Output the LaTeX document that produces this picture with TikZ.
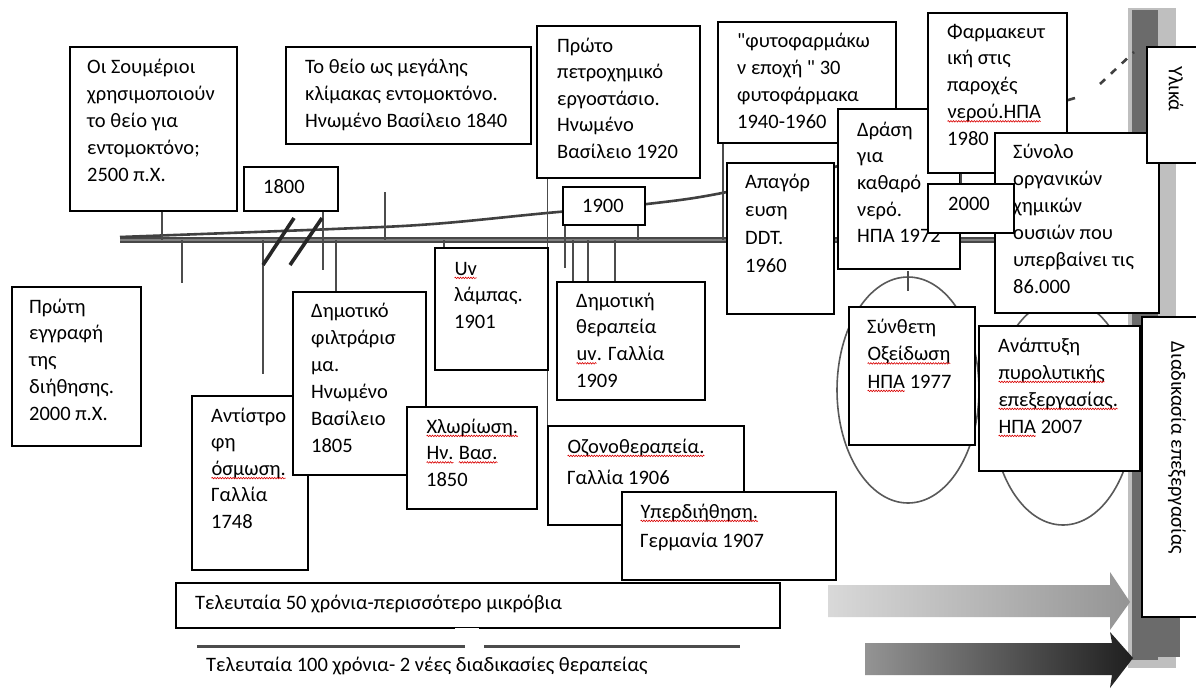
\documentclass[tikz,border=0pt]{standalone}
\usepackage{fontspec}
\setmainfont{Carlito}[Ligatures=TeXOff]
\usetikzlibrary{fit,shapes.geometric,decorations.pathmorphing}

% red wavy underline (spell-check mark) under a word
\newcommand\spellmark[1]{\tikz[baseline=(sp.base)]{\node[inner sep=0pt,outer sep=0pt] (sp) {#1};%
  \draw[red!85!black,line width=0.6pt,decorate,decoration={snake,amplitude=0.75pt,segment length=2.6pt}]
    ([yshift=-2.9pt]sp.base west) -- ([yshift=-2.9pt]sp.base east);}}
% fixed height of the first text line in every box
\newcommand\fl{\rule{0pt}{20pt}}

\tikzset{
  box/.style={draw=black,line width=1.4pt,fill=white,inner sep=0pt},
  txt/.style={anchor=north west,inner sep=0pt,align=left,font=\fontsize{20.5}{27}\selectfont},
  rot/.style={inner sep=0pt,rotate=-90,font=\fontsize{20.5}{27}\selectfont},
  tick/.style={line width=1.6pt,black!70},
  bar/.style={line width=6pt,black!72},
  slash/.style={line width=3.6pt,black!85},
  ring/.style={draw=black!65,line width=1.6pt,ellipse,inner sep=0pt,minimum width=142pt,minimum height=226pt}
}

\begin{document}
\begin{tikzpicture}[x=1pt,y=-1pt]
\useasboundingbox (0,0) rectangle (1196,691);
\fill[white] (0,0) rectangle (1196,691);

% grey band on the right edge
\fill[black!25] (1128,8) rectangle (1176,668);
\fill[black!58] (1132,10) rectangle (1158,660);
\fill[black!58] (1132,617) rectangle (1180,657);

% ellipses behind the recent boxes
\node[ring] (ell1) at (908,390) {};
\node[ring] (ell2) at (1063,412) {};
\draw[tick] ([yshift=5pt]ell1.north) -- ([yshift=-15pt]ell1.north);

% shaded arrows
\shade[left color=black!15,right color=black!42]
  (828,585) -- (1110,585) -- (1110,572) -- (1130,602) -- (1110,630) -- (1110,617) -- (828,617) -- cycle;
\shade[left color=black!42,right color=black!88]
  (865,643) -- (1112,643) -- (1110,632) -- (1133,658) -- (1110,688) -- (1112,675) -- (865,675) -- cycle;

% line above the last caption
\draw[line width=3pt,black!70] (197,646) -- (465,646);
\draw[line width=3pt,black!70] (484,646) -- (740,646);

% time axis and rising curve
\coordinate (axL) at (120,240);
\coordinate (axR) at (995,240);
\draw[bar] (axL) -- (axR);
\draw[line width=1.2pt,black!50] (axL) -- (axR);
\draw[line width=2.6pt,black!75] plot[smooth,tension=0.6] coordinates
  {(120,237) (333,229) (433,224) (547,213) (647,204) (727,192) (850,163) (960,132) (1075,98)};
\coordinate (d1) at (1100,84);
\coordinate (d2) at (1134,52);
\draw[line width=2.6pt,black!75,dash pattern=on 7pt off 8pt] (d1) -- (d2);

% boxes with their texts
\node[box,fit={(70,47) (237,211)}] (sum) {};
\node[txt] (tsum) at (87,52.8) {\fl Οι Σουμέριοι\\χρησιμοποιούν\\το θείο για\\εντομοκτόνο;\\2500 π.Χ.};

\node[box,fit={(286,47) (531,144)}] (sulf) {};
\node[txt] (tsulf) at (305,52.8) {\fl Το θείο ως μεγάλης\\κλίμακας εντομοκτόνο.\\Ηνωμένο Βασίλειο 1840};

% tick lines between the boxes and the axis
\coordinate (c162) at (162,240);
\coordinate (c182) at (182,240);
\coordinate (e182) at (182,283);
\coordinate (c263) at (263,240);
\coordinate (e263) at (263,374);
\coordinate (e323) at (323,270);
\coordinate (c336) at (336,240);
\coordinate (e385) at (385,192);
\coordinate (c385) at (385,240);
\coordinate (c444) at (444,240);
\coordinate (e565) at (565,268);
\coordinate (c573) at (573,240);
\coordinate (c588) at (588,240);
\coordinate (c615) at (615,240);
\coordinate (c638) at (638,240);
\coordinate (c723) at (723,240);
\coordinate (c961) at (961,180);

\node[box,fit={(244,167) (338,211)}] (b1800) {};
\node[txt] (t1800) at (263,172.8) {\fl 1800};
\node[box,fit={(537,26) (700,178)}] (petro) {};
\node[txt,font=\fontsize{20.5}{26.5}\selectfont] (tpetro) at (557,31.8) {\fl Πρώτο\\πετροχημικό\\εργοστάσιο.\\Ηνωμένο\\Βασίλειο 1920};
\node[box,fit={(563,187) (645,225)}] (b1900) {};
\node[txt] (t1900) at (582,191.8) {\fl 1900};
\node[box,fit={(718,22) (896,143)}] (fyto) {};
\node[txt] (tfyto) at (737,26.8) {\fl "φυτοφαρμάκω\\ν εποχή " 30\\φυτοφάρμακα\\1940-1960};

\draw[tick] (sum.south -| c162) -- (c162);
\draw[tick] (c182) -- (e182);
\draw[tick] (c263) -- (e263);
\draw[tick] (b1800.south -| e323) -- (e323);
\draw[tick] (e385) -- (c385);
\draw[tick] (fyto.south -| c723) -- (c723);
\draw[tick] (b1900.south -| c638) -- (c638);
\draw[tick] (b1900.south -| e565) -- (e565);

% break marks on the axis
\coordinate (s1a) at (263,265);
\coordinate (s1b) at (294,218);
\coordinate (s2a) at (290,265);
\coordinate (s2b) at (322,218);
\draw[slash] (s1a) -- (s1b);
\draw[slash] (s2a) -- (s2b);

\node[box,fit={(727,163) (834,314)}] (apag) {};
\node[txt,font=\fontsize{20.5}{28}\selectfont] (tapag) at (745,167.8) {\fl Απαγόρ\\ευση\\DDT.\\1960};
\node[box,fit={(838,109) (960,269)}] (drasi) {};
\node[txt,font=\fontsize{20.5}{26.7}\selectfont] (tdrasi) at (857,115.8) {\fl Δράση\\για\\καθαρό\\νερό.\\ΗΠΑ 1972};
\node[box,fit={(928,13) (1067,173)}] (farm) {};
\node[txt,font=\fontsize{20.5}{26.8}\selectfont] (tfarm) at (947,17.8) {\fl Φαρμακευτ\\ική στις\\παροχές\\\spellmark{νερού.ΗΠΑ}\\1980};
\node[box,fit={(995,133) (1159,313)}] (synolo) {};
\node[txt] (tsyn) at (1013,137.8) {\fl Σύνολο\\οργανικών\\χημικών\\ουσιών που\\υπερβαίνει τις\\86.000};
\draw[tick] (farm.south -| c961) -- (c961);
\node[box,fit={(928,184) (1014,233)}] (b2000) {};
\node[txt] (t2000) at (948,189.8) {\fl 2000};
\draw[tick] (c961) -- (b2000.north -| c961);

\node[box,fit={(1147,47) (1199,163)}] (ylika) {};
\node[rot] (tylika) at (1176,89) {Υλικά};

\node[box,fit={(12,287) (141,446)}] (proti) {};
\node[txt,font=\fontsize{20.5}{26.8}\selectfont] (tproti) at (29,292.8) {\fl Πρώτη\\εγγραφή\\της\\διήθησης.\\2000 π.Χ.};

\node[box,fit={(192,396) (308,570)}] (anti) {};
\node[txt,font=\fontsize{20.5}{26.6}\selectfont] (tanti) at (211,401.8) {\fl Αντίστρο\\φη\\\spellmark{όσμωση.}\\Γαλλία\\1748};

\node[box,fit={(293,292) (426,475)}] (dimot) {};
\node[txt] (tdimot) at (311,296.8) {\fl Δημοτικό\\φιλτράρισ\\μα.\\Ηνωμένο\\Βασίλειο\\1805};
\draw[tick] (c336) -- (dimot.north -| c336);

\node[box,fit={(548,426) (744,525)}] (ozono) {};
\draw[tick] (petro.south -| ozono.north west) -- (ozono.north west);

\node[box,fit={(435,248) (548,370)}] (uv) {};
\node[txt,font=\fontsize{20.5}{26.5}\selectfont] (tuv) at (454,254.8) {\fl\spellmark{Uv}\\λάμπας.\\1901};
\draw[tick] (c444) -- (uv.north -| c444);

\node[box,fit={(407,407) (537,509)}] (chlor) {};
\node[txt,font=\fontsize{20.5}{26.5}\selectfont] (tchlor) at (426,412.8) {\fl\spellmark{Χλωρίωση.}\\\spellmark{Ην.} \spellmark{Βασ.}\\1850};

\node[box,fit={(557,282) (705,400)}] (dimth) {};
\node[txt,font=\fontsize{20.5}{26.7}\selectfont] (tdimth) at (576,286.8) {\fl Δημοτική\\θεραπεία\\\spellmark{uv}. Γαλλία\\1909};
\draw[tick] (c573) -- (dimth.north -| c573);
\draw[tick] (c588) -- (dimth.north -| c588);
\draw[tick] (c615) -- (dimth.north -| c615);

\node[txt,font=\fontsize{20.5}{31}\selectfont] (tozono) at (567,432.8) {\fl\spellmark{Οζονοθεραπεία.}\\Γαλλία 1906};

\node[box,fit={(622,492) (836,580)}] (yper) {};
\node[txt,font=\fontsize{20.5}{29}\selectfont] (typer) at (640,497.8) {\fl\spellmark{Υπερδιήθηση.}\\Γερμανία 1907};

\node[box,fit={(849,307) (975,445)}] (synth) {};
\node[txt,font=\fontsize{20.5}{27.5}\selectfont] (tsynth) at (867,312.8) {\fl Σύνθετη\\\spellmark{Οξείδωση}\\\spellmark{ΗΠΑ} 1977};

\node[box,fit={(979,326) (1140,471)}] (anapt) {};
\node[txt] (tanapt) at (998,331.8) {\fl Ανάπτυξη\\\spellmark{πυρολυτικής}\\\spellmark{επεξεργασίας.}\\\spellmark{ΗΠΑ} 2007};

\node[box,fit={(1142,317) (1199,617)}] (diad) {};
\node[rot] (tdiad) at (1177,448) {Διαδικασία επεξεργασίας};

\node[box,fit={(176,583) (780,628)}] (tel50) {};
\node[txt] (ttel50) at (195,588.8) {\fl Τελευταία 50 χρόνια-περισσότερο μικρόβια};
\draw[white,line width=2.4pt] ([xshift=280pt]tel50.south west) -- ([xshift=304pt]tel50.south west);

\node[txt] (ttel100) at (206,650.8) {\fl Τελευταία 100 χρόνια- 2 νέες διαδικασίες θεραπείας};
\end{tikzpicture}
\end{document}
